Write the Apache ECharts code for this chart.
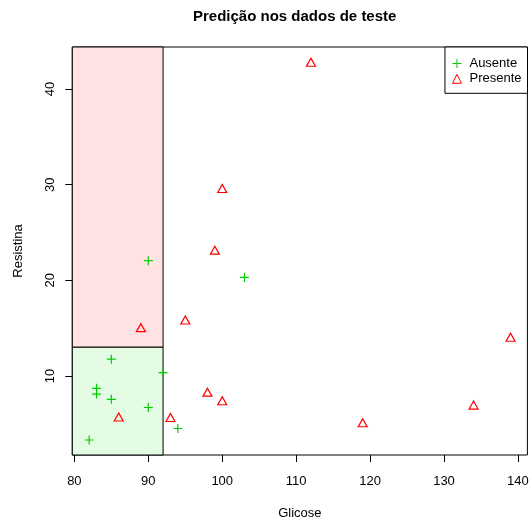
<!DOCTYPE html>
<html>
<head>
<meta charset="utf-8">
<script src="https://cdn.jsdelivr.net/npm/echarts@6/dist/echarts.min.js"></script>
<style>html,body{margin:0;padding:0;background:#fff}#c{width:532px;height:521px}</style>
</head>
<body>
<div id="c"></div>
<script>
// Data
const ausenteGlicose   = [82, 83, 83, 85, 85, 90, 92, 94, 90, 103];
const ausenteResistina = [3.3, 8.7, 8.1, 11.75, 7.55, 6.7, 10.35, 4.5, 22.05, 20.3];
const presenteGlicose   = [112, 100, 99, 95, 89, 86, 93, 98, 100, 119, 134, 139];
const presenteResistina = [42.8, 29.6, 23.15, 15.85, 15.05, 5.7, 5.65, 8.3, 7.4, 5.1, 6.95, 14.05];
const xTicks = [80, 90, 100, 110, 120, 130, 140];
const yTicks = [10, 20, 30, 40];
const xLimits = [79.72, 141.28];
const yLimits = [1.73, 44.4];
const glicoseCut = 92;
const resistinaCut = 13;
const seriesNames = ['Ausente', 'Presente'];

const FONT = 'Liberation Sans, Arial, Helvetica, sans-serif';
const GREEN = '#00CD00';
const RED = '#FF0000';

const zip = (a, b) => a.map((v, i) => [v, b[i]]);

const chart = echarts.init(document.getElementById('c'), null, {renderer: 'canvas'});
chart.setOption({
  animation: false,
  backgroundColor: '#fff',
  textStyle: {fontFamily: FONT},
  title: {
    text: 'Predição nos dados de teste',
    left: 193, top: 9, padding: 0,
    textStyle: {fontFamily: FONT, fontSize: 15, fontWeight: 'bold', color: '#000'}
  },
  legend: {
    orient: 'vertical',
    right: 4.5, top: 47,
    padding: [10, 6, 8, 7],
    itemGap: 2.3,
    itemWidth: 9, itemHeight: 9,
    backgroundColor: '#fff',
    borderColor: '#000', borderWidth: 1, borderRadius: 0,
    itemStyle: {borderWidth: 1},
    textStyle: {fontFamily: FONT, fontSize: 13, color: '#000', padding: [0, 0, 0, 3]},
    data: seriesNames
  },
  grid: {left: 72.3, right: 4.6, top: 47, bottom: 66, outerBoundsMode: 'none', containLabel: false,
         show: true, borderColor: '#000', borderWidth: 1, backgroundColor: 'transparent'},
  xAxis: {
    type: 'value', min: xLimits[0], max: xLimits[1],
    name: 'Glicose', nameLocation: 'middle', nameGap: 51.5,
    nameTextStyle: {fontFamily: FONT, fontSize: 13, color: '#000'},
    axisLine: {show: false},
    splitLine: {show: false},
    axisTick: {show: true, length: 7, lineStyle: {color: '#000'}, customValues: xTicks},
    axisLabel: {fontFamily: FONT, fontSize: 13, color: '#000', margin: 20, customValues: xTicks}
  },
  yAxis: {
    type: 'value', min: yLimits[0], max: yLimits[1],
    name: 'Resistina', nameLocation: 'middle', nameGap: 47,
    nameTextStyle: {fontFamily: FONT, fontSize: 13, color: '#000'},
    axisLine: {show: false},
    splitLine: {show: false},
    axisTick: {show: true, length: 7, lineStyle: {color: '#000'}, customValues: yTicks},
    axisLabel: {fontFamily: FONT, fontSize: 13, color: '#000', margin: 15, rotate: 90, customValues: yTicks}
  },
  series: [
    {
      name: seriesNames[0], type: 'scatter',
      data: zip(ausenteGlicose, ausenteResistina),
      symbol: 'path://M0,5L10,5M5,0L5,10',
      symbolSize: 9,
      itemStyle: {color: 'rgba(0,0,0,0)', borderColor: GREEN, borderWidth: 1.2, opacity: 1},
      z: 3,
      markArea: {
        silent: true,
        z: 1,
        data: [
          [{coord: [xLimits[0], resistinaCut], itemStyle: {color: '#FFE3E3', borderColor: '#000', borderWidth: 1}},
           {coord: [glicoseCut, yLimits[1]]}],
          [{coord: [xLimits[0], yLimits[0]], itemStyle: {color: '#E3FCE3', borderColor: '#000', borderWidth: 1}},
           {coord: [glicoseCut, resistinaCut]}]
        ]
      }
    },
    {
      name: seriesNames[1], type: 'scatter',
      data: zip(presenteGlicose, presenteResistina),
      symbol: 'triangle',
      symbolSize: [9, 8],
      itemStyle: {color: 'rgba(0,0,0,0)', borderColor: RED, borderWidth: 1.2, opacity: 1},
      z: 3
    }
  ]
});
</script>
</body>
</html>
